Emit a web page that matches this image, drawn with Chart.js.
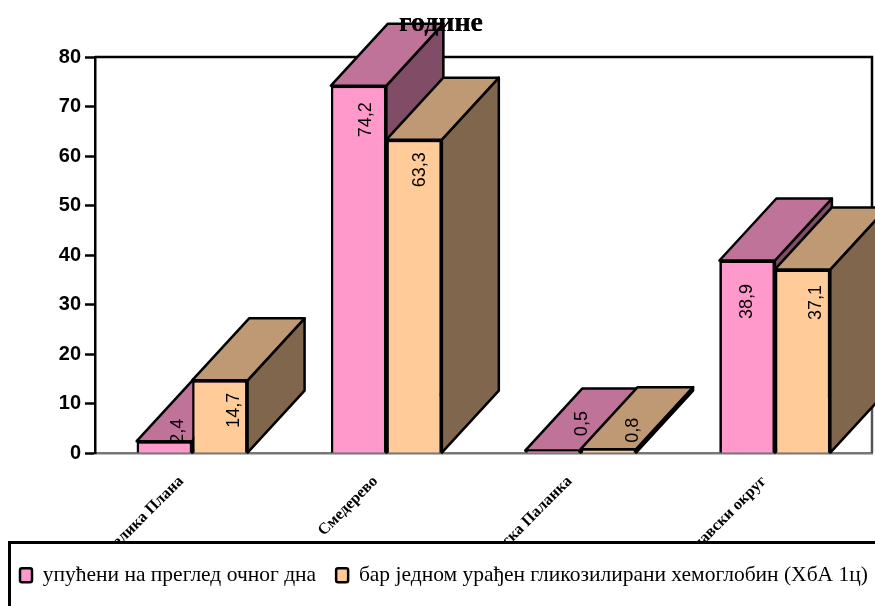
<!DOCTYPE html>
<html><head><meta charset="utf-8">
<style>html,body{margin:0;padding:0;background:#fff;overflow:hidden;width:875px;height:606px}canvas{display:block}</style>
<script src="https://cdn.jsdelivr.net/npm/chart.js@4"></script></head>
<body><canvas id="c" width="923" height="606"></canvas>
<script>
const categories = ['Велика Плана','Смедерево','Смедеревска Паланка','Подунавски округ'];
const referred = [2.4,74.2,0.5,38.9];
const tested = [14.7,63.3,0.8,37.1];
const referredLabel = 'упућени на преглед очног дна';
const testedLabel = 'бар једном урађен гликозилирани хемоглобин (ХбА 1ц)';
const titleText = 'године';
const depth = {dx:57, dy:-62};
const sideStyles = [{top:'#BF7399',side:'#804C66'},{top:'#BF9973',side:'#80664D'}];
const labelShift = [
  [[14,-10],[7,34],[29,-27],[0,41]],
  [[14,30],[6,30],[25,-19],[13,33]]
];
const poly = (ctx,pts,fill)=>{ctx.beginPath();pts.forEach((p,i)=>i?ctx.lineTo(p[0],p[1]):ctx.moveTo(p[0],p[1]));ctx.closePath();ctx.fillStyle=fill;ctx.fill();ctx.stroke();};
const frame = {id:'frame',
  afterLayout(chart){chart.titleBlock.right = 882;},
  beforeDatasetsDraw(chart){
    const {ctx,chartArea:a}=chart;ctx.save();ctx.lineWidth=2.5;
    ctx.strokeStyle='#000';ctx.beginPath();ctx.moveTo(a.left,a.top);ctx.lineTo(a.right,a.top);ctx.lineTo(a.right,a.top+200);ctx.stroke();
    ctx.strokeStyle='#555';ctx.beginPath();ctx.moveTo(a.right,a.top+200);ctx.lineTo(a.right,a.bottom);ctx.stroke();
    ctx.restore();
  },
  afterDatasetsDraw(chart){
    const ctx=chart.ctx;
    chart.data.datasets.forEach((d,di)=>{
      const s=sideStyles[di];
      chart.getDatasetMeta(di).data.forEach(bar=>{
        const p=bar.getProps(['x','y','base','width'],true);
        const l=p.x-p.width/2,r=p.x+p.width/2;
        ctx.save();ctx.lineWidth=2.5;ctx.strokeStyle='#000';ctx.lineJoin='round';
        poly(ctx,[[r,p.y],[r+depth.dx,p.y+depth.dy],[r+depth.dx,p.base+depth.dy],[r,p.base]],s.side);
        poly(ctx,[[l,p.y],[l+depth.dx,p.y+depth.dy],[r+depth.dx,p.y+depth.dy],[r,p.y]],s.top);
        ctx.restore();
        bar.draw(ctx);
      });
    });
    chart.data.datasets.forEach((d,di)=>{
      chart.getDatasetMeta(di).data.forEach((bar,i)=>{
        const p=bar.getProps(['x','y'],true),sh=labelShift[di][i];
        ctx.save();ctx.translate(p.x+sh[0],p.y+sh[1]);ctx.rotate(-Math.PI/2);
        ctx.font='18px "Liberation Sans"';ctx.fillStyle='#000';ctx.textAlign='center';ctx.textBaseline='middle';
        ctx.fillText(String(d.data[i]).replace('.',','),0,0);ctx.restore();
      });
    });
  },
  afterDraw(chart){
    const ctx=chart.ctx;ctx.save();
    ctx.fillStyle='#fff';ctx.fillRect(9,542,chart.width,80);
    ctx.strokeStyle='#000';ctx.lineWidth=3;ctx.strokeRect(9.5,542.5,chart.width,80);ctx.restore();
    chart.legend.draw();
    chart.titleBlock.draw(ctx);
  }
};
new Chart(document.getElementById('c'),{
  type:'bar',
  data:{labels:categories,datasets:[
    {label:referredLabel,data:referred,backgroundColor:'#FF99CC',borderColor:'#000',borderWidth:2.5},
    {label:testedLabel,data:tested,backgroundColor:'#FFCC99',borderColor:'#000',borderWidth:2.5}
  ]},
  options:{responsive:false,animation:false,events:[],
    layout:{padding:{bottom:10}},
    datasets:{bar:{categoryPercentage:0.571,barPercentage:1}},
    plugins:{
      tooltip:{enabled:false},
      title:{display:true,text:titleText,color:'#000',font:{family:'"Liberation Serif"',size:28,weight:'bold'},padding:{top:7,bottom:16.4}},
      legend:{position:'bottom',align:'start',labels:{color:'#000',font:{family:'"Liberation Serif"',size:21.5},boxWidth:12,boxHeight:14,padding:20,useBorderRadius:true,borderRadius:2}}
    },
    scales:{
      x:{grid:{display:false},border:{color:'#777',width:2.5},
        ticks:{color:'#000',font:{family:'"Liberation Serif"',size:16,weight:'bold'},minRotation:45,maxRotation:45,padding:11,labelOffset:-11},
        afterFit(s){s.height=91.4;}},
      y:{min:0,max:80,afterFit(s){s.width=95;},
        grid:{drawOnChartArea:false,drawTicks:true,tickLength:10,tickColor:'#000',tickWidth:2.5},
        border:{color:'#000',width:2.5},
        ticks:{stepSize:10,color:'#000',padding:4,font:{family:'"Liberation Sans"',size:20,weight:'bold'}}},
      yR:{type:'linear',position:'right',min:0,max:80,grid:{display:false},border:{display:false},ticks:{display:false},afterFit(s){s.width=51;}}
    }
  },
  plugins:[frame]
});
</script></body></html>
